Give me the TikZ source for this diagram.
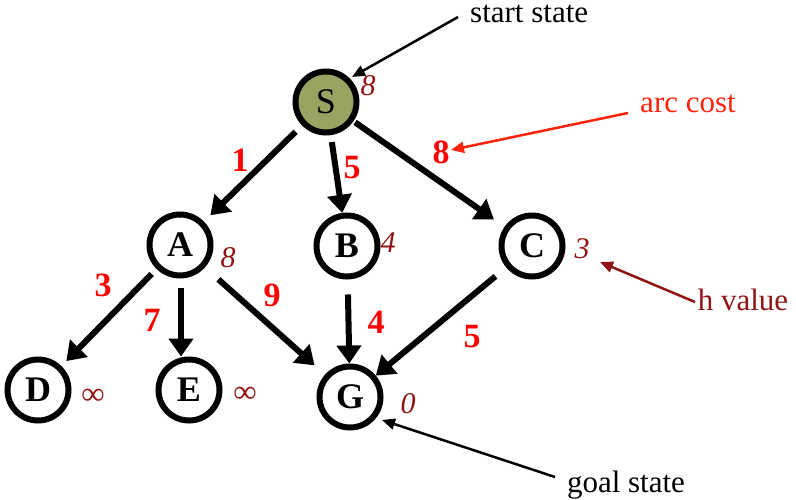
\documentclass[tikz,border=0pt]{standalone}
\usepackage{fontspec}
\setmainfont{Liberation Serif}
\usetikzlibrary{arrows.meta}

\definecolor{olivefill}{RGB}{155,163,99}
\definecolor{hred}{RGB}{145,20,20}
\definecolor{costred}{RGB}{255,0,0}
\definecolor{notered}{RGB}{255,35,10}

\tikzset{
  state/.style={circle, draw=black, line width=6pt, minimum size=61pt,
    inner sep=0pt, font=\fontsize{36}{42}\selectfont\bfseries},
  edge/.style={line width=6pt, -{Triangle[length=18pt,width=24pt]}},
  cost/.style={text=costred, font=\fontsize{34}{40}\selectfont\bfseries},
  hval/.style={text=hred, font=\fontsize{30}{36}\selectfont\itshape},
  infval/.style={hval, font=\fontsize{32}{36}\selectfont\itshape},
  note/.style={font=\fontsize{31}{37}\selectfont},
  pointer/.style={line width=2.5pt, -{Triangle[length=13pt,width=11pt]}},
}

\begin{document}
\begin{tikzpicture}[x=1pt,y=-1pt]
\useasboundingbox (0,0) rectangle (796,500);

% states
\node[state, fill=olivefill, font=\fontsize{36}{42}\selectfont] (S) at (326,102) {S};
\node[state] (A) at (180,245) {A};
\node[state] (B) at (347,246) {B};
\node[state] (C) at (532,246) {C};
\node[state] (D) at (38,390) {D};
\node[state] (E) at (189,390) {E};
\node[state] (G) at (350,397) {G};

% heuristic values
\node[hval] (hS) at (368,86) {8};
\node[hval] (hA) at (228,258) {8};
\node[hval] (hB) at (388,243) {4};
\node[hval] (hC) at (582,249) {3};
\node[infval] (hD) at (93,397) {∞};
\node[infval] (hE) at (245,395) {∞};
\node[hval] (hG) at (408,404) {0};

% arcs
\draw[edge, shorten <=9pt, shorten >=9pt] (S) -- (A);
\draw[edge, shorten <=7pt] (S) -- (B);
\draw[edge, shorten <=2pt, shorten >=13pt] (S) -- (C);
\draw[edge, shorten <=7pt, shorten >=7pt] (A) -- (D);
\draw[edge, shorten <=9pt] ([xshift=1pt]A.south) -- ([xshift=1pt]A.south |- E.north);
\draw[edge, shorten <=18pt, shorten >=14pt] (A) -- (G);
\draw[edge, shorten <=15pt] (B) -- (G);
\draw[edge, shorten <=14pt] (C) -- (G);

% arc costs
\node[cost] (c1) at (240,160) {1};
\node[cost] (c2) at (352,168) {5};
\node[cost] (c3) at (441,152) {8};
\node[cost] (c4) at (103,285) {3};
\node[cost] (c5) at (152,320) {7};
\node[cost] (c6) at (272,295) {9};
\node[cost] (c7) at (376,322) {4};
\node[cost] (c8) at (472,337) {5};

% annotations
\node[note, anchor=base west, inner sep=0pt] (start) at (470,23) {start state};
\node[note, text=notered] (arc) at (688,104) {arc cost};
\node[note, text=hred] (hv) at (743,300) {h value};
\node[note] (goal) at (626,485) {goal state};

\coordinate (startTail) at (458,17);
\coordinate (startTip) at (352,77);
\coordinate (arcTail) at (628,113);
\coordinate (arcTip) at (451,150);
\coordinate (hTail) at (695,302);
\coordinate (hTip) at (600,262);
\coordinate (goalTail) at (555,477);
\coordinate (goalTip) at (382,420);

\draw[pointer] (startTail) -- (startTip);
\draw[pointer, draw=notered, fill=notered] (arcTail) -- (arcTip);
\draw[pointer, draw=hred, fill=hred] (hTail) -- (hTip);
\draw[pointer] (goalTail) -- (goalTip);
\end{tikzpicture}
\end{document}
